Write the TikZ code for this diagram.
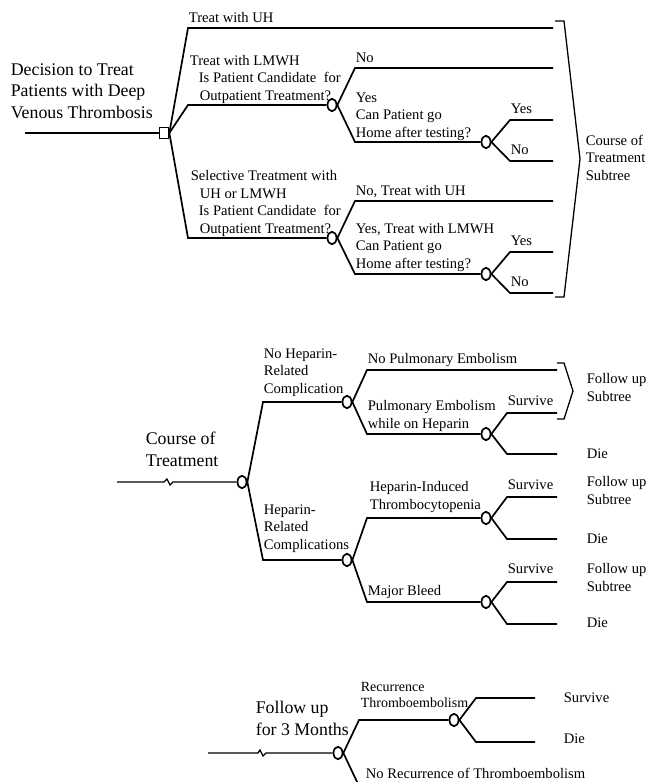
\documentclass[tikz,border=0pt]{standalone}
\usepackage{fontspec}
\setmainfont{Liberation Serif}
\usetikzlibrary{shapes.geometric,positioning}

\begin{document}
\begin{tikzpicture}[
        x=1pt, y=-1pt,
        line width=1.7pt, line join=miter
    ]

    \tikzstyle{chance} = [ellipse,draw,fill=white,inner sep=0pt,minimum width=9pt,minimum height=12.5pt]
    \tikzstyle{choice} = [rectangle,draw,fill=white,inner sep=0pt,minimum width=9pt,minimum height=11pt]
    \tikzstyle{lbl} = [anchor=base west,inner sep=0pt,align=left,font=\fontsize{14.6}{17.5}\selectfont]
    \tikzstyle{title} = [anchor=base west,inner sep=0pt,align=left,font=\fontsize{17.8}{21.5}\selectfont]
    \tikzstyle{stem} = [line width=1.3pt]

    \useasboundingbox (0,0) rectangle (649,782);

    % decision to treat
    \node[title] (dvt) at (10,118) {Decision to Treat\\Patients with Deep\\Venous Thrombosis};
    \coordinate (root1) at (25,133);
    \node[choice] (dec) at (164,133) {};
    \draw[stem] (root1) -- (dec);

    \coordinate (uh) at (188,28);
    \coordinate (uhEnd) at (553,28);
    \coordinate (lmwh) at (188,105);
    \coordinate (sel) at (188,238);
    \node[chance] (outpA) at (332,105) {};
    \node[chance] (outpB) at (332,238) {};
    \draw (dec.east) -- (uh) -- (uhEnd);
    \draw (dec.east) -- (lmwh) -- (outpA);
    \draw (dec.east) -- (sel) -- (outpB);
    \node[lbl] (uhTxt) at (188,22) {Treat with UH};
    \node[lbl] (lmwhTxt) at (189,100) {Treat with LMWH\\\hspace{9pt}Is Patient Candidate\ \ for\\\hspace{10pt}Outpatient Treatment?};
    \node[lbl] (selTxt) at (190,233) {Selective Treatment with\\\hspace{9pt}UH or LMWH\\\hspace{8pt}Is Patient Candidate\ \ for\\\hspace{9pt}Outpatient Treatment?};

    % outpatient, lmwh
    \coordinate (noA) at (355,68);
    \coordinate (noAEnd) at (553,68);
    \coordinate (yesA) at (355,142);
    \node[chance] (homeA) at (486,142) {};
    \draw (outpA.east) -- (noA) -- (noAEnd);
    \draw (outpA.east) -- (yesA) -- (homeA);
    \node[lbl] (noATxt) at (355,62) {No};
    \node[lbl] (yesATxt) at (355,137) {Yes\\Can Patient go\\Home after testing?};
    \coordinate (hyA) at (510,120);
    \coordinate (hyAEnd) at (553,120);
    \coordinate (hnA) at (510,161);
    \coordinate (hnAEnd) at (553,161);
    \draw (homeA.east) -- (hyA) -- (hyAEnd);
    \draw (homeA.east) -- (hnA) -- (hnAEnd);
    \node[lbl] (hyATxt) at (510,113) {Yes};
    \node[lbl] (hnATxt) at (510,154) {No};

    % outpatient, selective
    \coordinate (noB) at (355,201);
    \coordinate (noBEnd) at (553,201);
    \coordinate (yesB) at (355,274);
    \node[chance] (homeB) at (486,274) {};
    \draw (outpB.east) -- (noB) -- (noBEnd);
    \draw (outpB.east) -- (yesB) -- (homeB);
    \node[lbl] (noBTxt) at (355,195) {No, Treat with UH};
    \node[lbl] (yesBTxt) at (355,268) {Yes, Treat with LMWH\\Can Patient go\\Home after testing?};
    \coordinate (hyB) at (510,252);
    \coordinate (hyBEnd) at (553,252);
    \coordinate (hnB) at (510,293);
    \coordinate (hnBEnd) at (553,293);
    \draw (homeB.east) -- (hyB) -- (hyBEnd);
    \draw (homeB.east) -- (hnB) -- (hnBEnd);
    \node[lbl] (hyBTxt) at (510,245) {Yes};
    \node[lbl] (hnBTxt) at (510,286) {No};

    \draw[line width=1.3pt] (555,21) -- (564,21) -- (580,159) -- (564,297) -- (555,297);
    \node[lbl] (cotSub) at (585,180) {Course of\\Treatment\\Subtree};

    % course of treatment
    \node[title] (cot) at (145,466) {Course of\\Treatment};
    \coordinate (root2) at (117,482);
    \node[chance] (cotN) at (242,482) {};
    \draw[stem] (root2) -- (164,482) -- (167,479) -- (170,485) -- (173,482) -- (cotN);

    \coordinate (nohep) at (263,402);
    \coordinate (hep) at (263,560);
    \node[chance] (nohepN) at (347,402) {};
    \node[chance] (hepN) at (347,560) {};
    \draw (cotN.east) -- (nohep) -- (nohepN);
    \draw (cotN.east) -- (hep) -- (hepN);
    \node[lbl] (nohepTxt) at (263,393) {No Heparin-\\Related\\Complication};
    \node[lbl] (hepTxt) at (263,549) {Heparin-\\Related\\Complications};

    \coordinate (nope) at (367,370);
    \coordinate (nopeEnd) at (557,370);
    \coordinate (pe) at (367,434);
    \node[chance] (peN) at (486,434) {};
    \draw (nohepN.east) -- (nope) -- (nopeEnd);
    \draw (nohepN.east) -- (pe) -- (peN);
    \node[lbl] (nopeTxt) at (367,363) {No Pulmonary Embolism};
    \node[lbl] (peTxt) at (367,428) {Pulmonary Embolism\\while on Heparin};
    \coordinate (peS) at (507,413);
    \coordinate (peSEnd) at (557,413);
    \coordinate (peD) at (507,454);
    \coordinate (peDEnd) at (557,454);
    \draw (peN.east) -- (peS) -- (peSEnd);
    \draw (peN.east) -- (peD) -- (peDEnd);
    \node[lbl] (peSTxt) at (507,405) {Survive};
    \node[lbl] (peDTxt) at (586,458) {Die};
    \draw[line width=1.3pt] (557,363) -- (564,363) -- (573,391) -- (564,419) -- (557,419);
    \node[lbl] (fuA) at (586,401) {Follow up\\Subtree};

    \coordinate (hit) at (367,518);
    \node[chance] (hitN) at (486,518) {};
    \draw (hepN.east) -- (hit) -- (hitN);
    \node[lbl] (hitTxt) at (369,509) {Heparin-Induced\\Thrombocytopenia};
    \coordinate (hitS) at (507,497);
    \coordinate (hitSEnd) at (557,497);
    \coordinate (hitD) at (507,539);
    \coordinate (hitDEnd) at (557,539);
    \draw (hitN.east) -- (hitS) -- (hitSEnd);
    \draw (hitN.east) -- (hitD) -- (hitDEnd);
    \node[lbl] (hitSTxt) at (507,489) {Survive};
    \node[lbl] (fuB) at (586,504) {Follow up\\Subtree};
    \node[lbl] (hitDTxt) at (586,543) {Die};

    \coordinate (bleed) at (367,602);
    \node[chance] (bleedN) at (486,602) {};
    \draw (hepN.east) -- (bleed) -- (bleedN);
    \node[lbl] (bleedTxt) at (367,595) {Major Bleed};
    \coordinate (bleedS) at (507,582);
    \coordinate (bleedSEnd) at (557,582);
    \coordinate (bleedD) at (507,624);
    \coordinate (bleedDEnd) at (557,624);
    \draw (bleedN.east) -- (bleedS) -- (bleedSEnd);
    \draw (bleedN.east) -- (bleedD) -- (bleedDEnd);
    \node[lbl] (bleedSTxt) at (507,573) {Survive};
    \node[lbl] (fuC) at (586,591) {Follow up\\Subtree};
    \node[lbl] (bleedDTxt) at (586,627) {Die};

    % follow up
    \node[title] (fu) at (255,735) {Follow up\\for 3 Months};
    \coordinate (root3) at (208,753);
    \node[chance] (fuN) at (338,753) {};
    \draw[stem] (root3) -- (258,753) -- (260,750) -- (263,756) -- (266,753) -- (fuN);

    \coordinate (rec) at (359,720);
    \coordinate (norec) at (359,786);
    \node[chance] (recN) at (454,720) {};
    \draw (fuN.east) -- (rec) -- (recN);
    \draw (fuN.east) -- (norec);
    \node[lbl,font=\fontsize{14}{16}\selectfont] (recTxt) at (360,707) {Recurrence\\Thromboembolism};
    \node[lbl] (norecTxt) at (365,778) {No Recurrence of Thromboembolism};
    \coordinate (recS) at (476,698);
    \coordinate (recSEnd) at (535,698);
    \coordinate (recD) at (476,742);
    \coordinate (recDEnd) at (535,742);
    \draw (recN.east) -- (recS) -- (recSEnd);
    \draw (recN.east) -- (recD) -- (recDEnd);
    \node[lbl] (recSTxt) at (563,702) {Survive};
    \node[lbl] (recDTxt) at (563,743) {Die};

\end{tikzpicture}
\end{document}
